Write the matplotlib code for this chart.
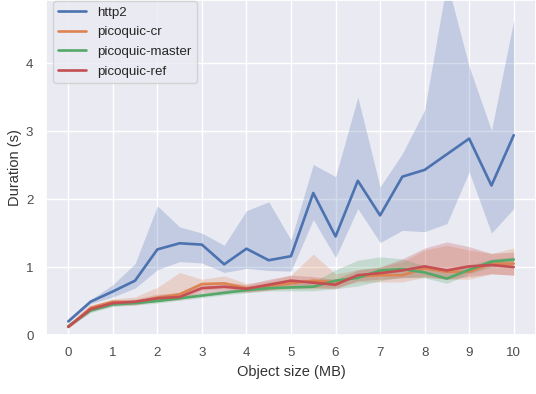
import matplotlib

matplotlib.use("Agg")
import matplotlib.pyplot as plt
import seaborn as sns

# object sizes in MB
sizes_mb = [0, 0.5, 1, 1.5, 2, 2.5, 3, 3.5, 4, 4.5, 5,
            5.5, 6, 6.5, 7, 7.5, 8, 8.5, 9, 9.5, 10]

# mean duration (s) with lower / upper confidence bounds per implementation
http2_mean = [0.20, 0.49, 0.64, 0.80, 1.26, 1.35, 1.33, 1.04, 1.27, 1.10, 1.16,
              2.09, 1.45, 2.27, 1.76, 2.33, 2.43, 2.66, 2.89, 2.20, 2.94]
http2_low = [0.18, 0.46, 0.56, 0.69, 0.96, 1.08, 1.06, 0.92, 0.98, 0.95, 0.94,
             1.70, 1.14, 1.86, 1.36, 1.54, 1.52, 1.64, 2.40, 1.50, 1.86]
http2_high = [0.22, 0.52, 0.74, 1.05, 1.90, 1.59, 1.50, 1.32, 1.83, 1.96, 1.40,
              2.51, 2.33, 3.50, 2.18, 2.67, 3.31, 5.20, 3.95, 3.01, 4.63]

cr_mean = [0.12, 0.40, 0.49, 0.48, 0.55, 0.60, 0.75, 0.76, 0.69, 0.72, 0.76,
           0.80, 0.78, 0.86, 0.88, 0.88, 0.98, 0.93, 0.93, 1.05, 1.05]
cr_low = [0.10, 0.37, 0.45, 0.44, 0.50, 0.53, 0.66, 0.68, 0.64, 0.66, 0.68,
          0.68, 0.70, 0.78, 0.78, 0.78, 0.85, 0.82, 0.82, 0.90, 0.88]
cr_high = [0.14, 0.44, 0.53, 0.56, 0.70, 0.92, 0.82, 0.87, 0.76, 0.80, 0.88,
           1.19, 0.90, 0.96, 1.00, 1.08, 1.25, 1.32, 1.25, 1.20, 1.28]

master_mean = [0.13, 0.36, 0.45, 0.47, 0.50, 0.54, 0.58, 0.62, 0.66, 0.69, 0.70,
               0.71, 0.80, 0.84, 0.95, 0.97, 0.92, 0.83, 0.96, 1.08, 1.11]
master_low = [0.11, 0.33, 0.42, 0.44, 0.47, 0.51, 0.55, 0.59, 0.62, 0.65, 0.65,
              0.65, 0.68, 0.72, 0.80, 0.85, 0.84, 0.76, 0.90, 1.00, 1.06]
master_high = [0.15, 0.39, 0.48, 0.50, 0.53, 0.58, 0.62, 0.66, 0.70, 0.74, 0.76,
               0.78, 0.96, 1.10, 1.15, 1.12, 1.02, 0.92, 1.02, 1.12, 1.15]

ref_mean = [0.12, 0.38, 0.47, 0.49, 0.54, 0.56, 0.69, 0.71, 0.68, 0.74, 0.80,
            0.77, 0.74, 0.88, 0.91, 0.95, 1.01, 0.95, 1.01, 1.03, 1.00]
ref_low = [0.10, 0.35, 0.43, 0.45, 0.50, 0.52, 0.62, 0.64, 0.63, 0.66, 0.72,
           0.70, 0.68, 0.80, 0.82, 0.84, 0.86, 0.82, 0.86, 0.90, 0.88]
ref_high = [0.14, 0.42, 0.51, 0.53, 0.60, 0.62, 0.76, 0.78, 0.74, 0.82, 0.88,
            0.86, 0.82, 0.96, 1.00, 1.12, 1.28, 1.37, 1.30, 1.20, 1.22]

series = [
    ("http2", http2_mean, http2_low, http2_high),
    ("picoquic-cr", cr_mean, cr_low, cr_high),
    ("picoquic-master", master_mean, master_low, master_high),
    ("picoquic-ref", ref_mean, ref_low, ref_high),
]

sns.set_theme(style="darkgrid")
plt.rcParams["font.family"] = ["Liberation Sans", "DejaVu Sans"]

fig = plt.figure(figsize=(5.36, 3.94), dpi=100)
ax = fig.add_axes([46 / 536, 59 / 394, 490 / 536, 335 / 394])

palette = sns.color_palette("deep")
for (name, mean, low, high), color in zip(series, palette):
    ax.fill_between(sizes_mb, low, high, color=color, alpha=0.25, linewidth=0)
    ax.plot(sizes_mb, mean, color=color, linewidth=1.9, label=name)

ax.set_xlim(-0.5, 10.5)
ax.set_ylim(0, 4.93)
ax.set_xticks(range(0, 11))
ax.set_yticks(range(0, 5))
ax.tick_params(labelsize=9.6, colors="0.3", length=0, pad=9)
ax.set_xlabel("Object size (MB)", fontsize=10.5, color="0.2", labelpad=4)
ax.set_ylabel("Duration (s)", fontsize=10.5, color="0.2", labelpad=3)

ax.legend(loc="upper left", bbox_to_anchor=(0.0143, 0.997), borderaxespad=0,
          fontsize=9.6, labelspacing=0.55, handlelength=2.1)

fig.savefig("out.png", dpi=100)
plt.close(fig)
